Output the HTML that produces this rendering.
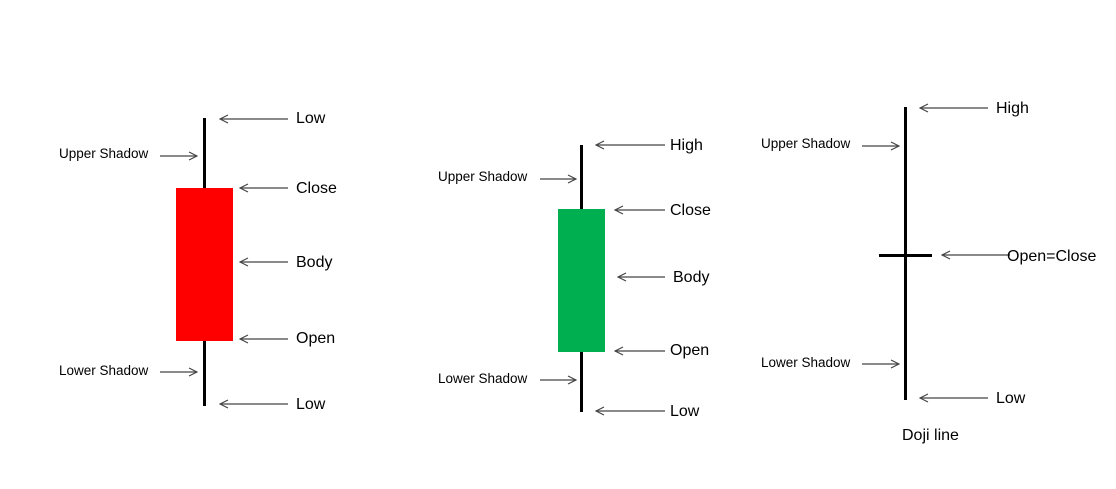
<!DOCTYPE html>
<html><head><meta charset="utf-8"><style>
html,body{margin:0;padding:0;background:#fff;}
svg{display:block}
text{font-family:"Liberation Sans",Arial,sans-serif;fill:#000}
.b{font-size:16px}.s{font-size:13.5px}
.a{stroke:#444;stroke-width:1.2;fill:none}
</style></head><body>
<svg width="1116" height="489" viewBox="0 0 1116 489" xmlns="http://www.w3.org/2000/svg">
<defs>
<marker id="h" viewBox="0 0 10 10" refX="9" refY="5" markerWidth="10" markerHeight="10" markerUnits="userSpaceOnUse" orient="auto">
<path d="M1,1 L9,5 L1,9" fill="none" stroke="#444" stroke-width="1.2"/></marker>
</defs>
<!-- candle 1 -->
<line x1="204.5" y1="118" x2="204.5" y2="406" stroke="#000" stroke-width="3"/>
<rect x="176" y="188" width="57" height="153" fill="#ff0000"/>
<g class="a">
<line x1="288" y1="119" x2="220" y2="119" marker-end="url(#h)"/>
<line x1="160" y1="156" x2="197" y2="156" marker-end="url(#h)"/>
<line x1="288" y1="188" x2="240" y2="188" marker-end="url(#h)"/>
<line x1="288" y1="262" x2="240" y2="262" marker-end="url(#h)"/>
<line x1="288" y1="339" x2="240" y2="339" marker-end="url(#h)"/>
<line x1="160" y1="372" x2="197" y2="372" marker-end="url(#h)"/>
<line x1="288" y1="404" x2="220" y2="404" marker-end="url(#h)"/>
</g>
<text class="b" x="296" y="123">Low</text>
<text class="s" x="59" y="158">Upper Shadow</text>
<text class="b" x="296" y="193">Close</text>
<text class="b" x="296" y="267">Body</text>
<text class="b" x="296" y="343">Open</text>
<text class="s" x="59" y="375">Lower Shadow</text>
<text class="b" x="296" y="409">Low</text>
<!-- candle 2 -->
<line x1="581.5" y1="145" x2="581.5" y2="412" stroke="#000" stroke-width="3"/>
<rect x="558" y="209" width="47" height="143" fill="#00b050"/>
<g class="a">
<line x1="665" y1="145" x2="596" y2="145" marker-end="url(#h)"/>
<line x1="540" y1="179" x2="576" y2="179" marker-end="url(#h)"/>
<line x1="665" y1="210" x2="615" y2="210" marker-end="url(#h)"/>
<line x1="665" y1="277" x2="618" y2="277" marker-end="url(#h)"/>
<line x1="665" y1="351" x2="615" y2="351" marker-end="url(#h)"/>
<line x1="540" y1="380" x2="576" y2="380" marker-end="url(#h)"/>
<line x1="665" y1="411" x2="596" y2="411" marker-end="url(#h)"/>
</g>
<text class="b" x="670" y="150">High</text>
<text class="s" x="438" y="181">Upper Shadow</text>
<text class="b" x="670" y="215">Close</text>
<text class="b" x="673" y="282">Body</text>
<text class="b" x="670" y="355">Open</text>
<text class="s" x="438" y="383">Lower Shadow</text>
<text class="b" x="670" y="416">Low</text>
<!-- doji -->
<line x1="905.5" y1="107" x2="905.5" y2="400" stroke="#000" stroke-width="3"/>
<line x1="879" y1="255.5" x2="932" y2="255.5" stroke="#000" stroke-width="3"/>
<g class="a">
<line x1="988" y1="108" x2="920" y2="108" marker-end="url(#h)"/>
<line x1="862" y1="146" x2="899" y2="146" marker-end="url(#h)"/>
<line x1="1010" y1="255" x2="942" y2="255" marker-end="url(#h)"/>
<line x1="862" y1="364" x2="899" y2="364" marker-end="url(#h)"/>
<line x1="988" y1="398" x2="920" y2="398" marker-end="url(#h)"/>
</g>
<text class="b" x="996" y="113">High</text>
<text class="s" x="761" y="148">Upper Shadow</text>
<text class="b" x="1007" y="261">Open=Close</text>
<text class="s" x="761" y="367">Lower Shadow</text>
<text class="b" x="996" y="403">Low</text>
<text class="b" x="902" y="440">Doji line</text>
</svg>
</body></html>
